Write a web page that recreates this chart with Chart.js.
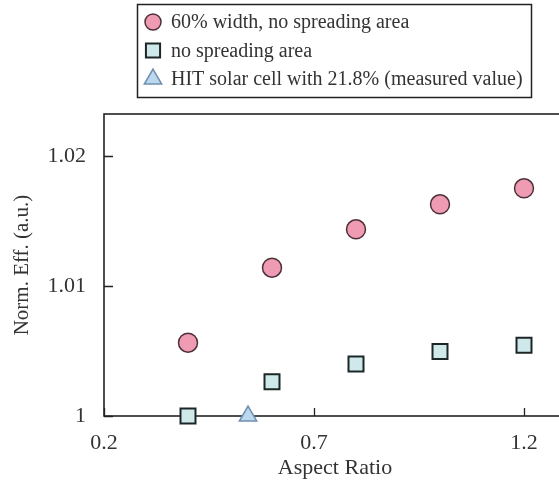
<!DOCTYPE html>
<html>
<head>
<meta charset="utf-8">
<script src="https://cdn.jsdelivr.net/npm/chart.js@4/dist/chart.umd.min.js"></script>
<style>
  html, body { margin: 0; padding: 0; background: #fff; overflow: hidden; }
  #wrap { width: 600px; height: 488px; }
</style>
</head>
<body>
<div id="wrap"><canvas id="chart" width="600" height="488"></canvas></div>
<script>
// data
const aspectRatio = [0.4, 0.6, 0.8, 1.0, 1.2];
const eff60Width = [1.00564, 1.01141, 1.01436, 1.01628, 1.01751];
const effNoSpread = [1.0000, 1.00264, 1.0040, 1.00497, 1.00544];
const hitAspect = [0.543];
const hitEff = [1.0];

const seriesLabels = [
  '60% width, no spreading area',
  'no spreading area',
  'HIT solar cell with 21.8% (measured value)'
];
const xTicks = [0.2, 0.7, 1.2];
const yTicks = [1, 1.01, 1.02];
const yTickLabels = ['1', '1.01', '1.02'];

const serif = '"Liberation Serif", "DejaVu Serif", serif';
const ink = '#222';

// frame + inward ticks
const framePlugin = {
  id: 'frame',
  beforeDatasetsDraw(chart) {
    const { ctx, chartArea: a, scales } = chart;
    ctx.save();
    ctx.strokeStyle = ink;
    ctx.lineWidth = 1.6;
    ctx.strokeRect(a.left, a.top, a.right - a.left, a.bottom - a.top);
    ctx.lineWidth = 1.3;
    ctx.beginPath();
    xTicks.forEach(v => {
      const x = Math.round(scales.x.getPixelForValue(v)) + 0.5;
      ctx.moveTo(x, a.bottom);
      ctx.lineTo(x, a.bottom - 8);
    });
    yTicks.forEach(v => {
      const y = Math.round(scales.y.getPixelForValue(v)) + 0.5;
      ctx.moveTo(a.left, y);
      ctx.lineTo(a.left + 9, y);
    });
    ctx.stroke();
    ctx.restore();
  }
};

// boxed legend, one entry per line
const boxLegend = {
  id: 'boxLegend',
  afterDraw(chart) {
    const { ctx } = chart;
    const box = { left: 137, top: 4, right: 531, bottom: 97 };
    ctx.save();
    ctx.strokeStyle = ink;
    ctx.lineWidth = 1.5;
    ctx.strokeRect(box.left + 0.5, box.top + 0.5, box.right - box.left, box.bottom - box.top);
    ctx.font = '20px ' + serif;
    ctx.textBaseline = 'middle';
    ctx.fillStyle = '#333';
    chart.data.datasets.forEach((ds, i) => {
      const y = 22 + i * 28.5;
      ctx.save();
      ctx.fillStyle = ds.backgroundColor;
      ctx.strokeStyle = ds.borderColor;
      ctx.lineWidth = ds.borderWidth;
      Chart.helpers.drawPoint(ctx, {
        pointStyle: ds.pointStyle,
        radius: ds.legendRadius,
        borderWidth: ds.borderWidth,
        rotation: 0
      }, 153, y);
      ctx.restore();
      ctx.fillText(ds.label, 171, y + 1);
    });
    ctx.restore();
  }
};

new Chart(document.getElementById('chart'), {
  type: 'scatter',
  data: {
    datasets: [
      {
        label: seriesLabels[0],
        data: aspectRatio.map((x, i) => ({ x, y: eff60Width[i] })),
        pointStyle: 'circle',
        pointRadius: 9.5,
        legendRadius: 8,
        backgroundColor: '#ee9bb3',
        borderColor: '#4e3038',
        borderWidth: 1.5
      },
      {
        label: seriesLabels[1],
        data: aspectRatio.map((x, i) => ({ x, y: effNoSpread[i] })),
        pointStyle: 'rect',
        pointRadius: 10.6,
        legendRadius: 10,
        backgroundColor: '#cfe9ea',
        borderColor: '#1c2626',
        borderWidth: 2
      },
      {
        label: seriesLabels[2],
        data: hitAspect.map((x, i) => ({ x, y: hitEff[i] })),
        pointStyle: 'triangle',
        pointRadius: 10,
        legendRadius: 10,
        backgroundColor: '#bcd8ee',
        borderColor: '#6f8fae',
        borderWidth: 1.5
      }
    ]
  },
  options: {
    responsive: false,
    animation: false,
    clip: false,
    layout: { padding: { top: 114, right: 34, bottom: 0, left: 0 } },
    plugins: {
      legend: { display: false },
      tooltip: { enabled: false }
    },
    scales: {
      x: {
        type: 'linear',
        min: 0.2,
        max: 1.3,
        grid: { display: false, drawTicks: false },
        border: { display: false },
        afterBuildTicks: s => { s.ticks = xTicks.map(v => ({ value: v })); },
        afterFit: s => { s.height = 72; },
        ticks: {
          padding: 14,
          color: '#333',
          font: { family: serif, size: 22 },
          callback: v => String(v)
        },
        title: {
          display: true,
          text: 'Aspect Ratio',
          color: '#333',
          font: { family: serif, size: 22 },
          padding: { top: 0, bottom: 7 }
        }
      },
      y: {
        type: 'linear',
        min: 1,
        max: 1.02323,
        grid: { display: false, drawTicks: false },
        border: { display: false },
        afterBuildTicks: s => { s.ticks = yTicks.map(v => ({ value: v })); },
        afterFit: s => { s.width = 104; },
        ticks: {
          padding: 18,
          color: '#333',
          font: { family: serif, size: 22 },
          callback: v => yTickLabels[yTicks.indexOf(v)] ?? ''
        },
        title: {
          display: true,
          text: 'Norm. Eff. (a.u.)',
          color: '#333',
          font: { family: serif, size: 21 },
          padding: { top: 10, bottom: 0 }
        }
      }
    }
  },
  plugins: [framePlugin, boxLegend]
});
</script>
</body>
</html>
